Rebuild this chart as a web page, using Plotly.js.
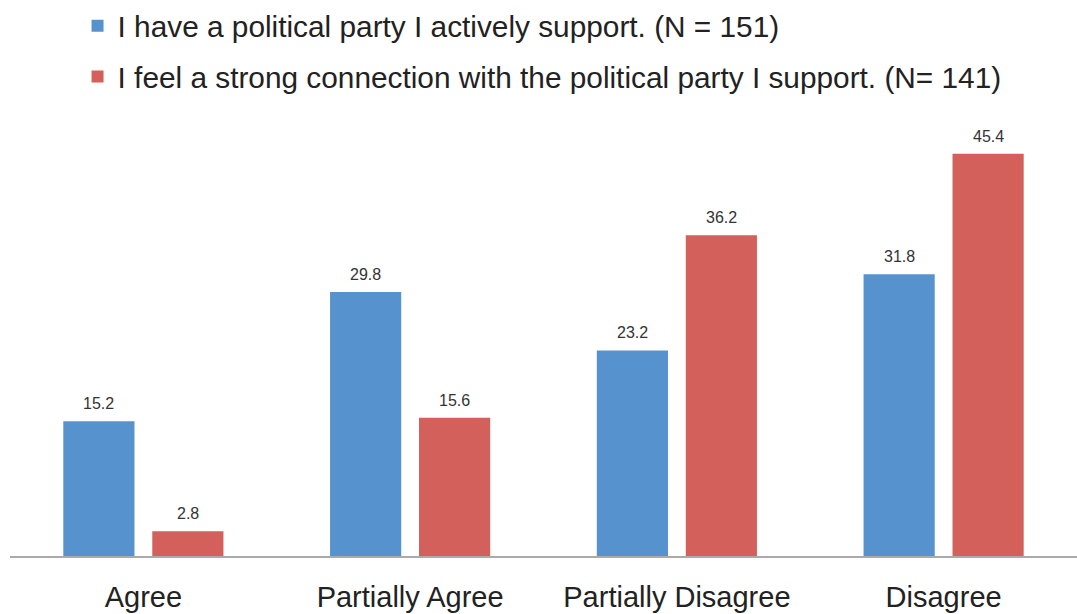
<!DOCTYPE html>
<html>
<head>
<meta charset="utf-8">
<script src="https://cdn.plot.ly/plotly-3.0.1.min.js"></script>
<style>html,body{margin:0;padding:0;background:#fff;}#chart{width:1077px;height:614px;}</style>
</head>
<body>
<div id="chart"></div>
<script>
const categories = ["Agree", "Partially Agree", "Partially Disagree", "Disagree"];
const seriesNames = [
  "I have a political party I actively support. (N = 151)",
  "I feel a strong connection with the political party I support. (N= 141)"
];
const activelySupport = [15.2, 29.8, 23.2, 31.8];
const strongConnection = [2.8, 15.6, 36.2, 45.4];
const seriesValues = [activelySupport, strongConnection];
const seriesColors = ["#5692cd", "#d3605a"];
const labelShift = [-44.5, 44.5];

const traces = seriesValues.map((vals, i) => ({
  type: "bar", x: categories, y: vals, name: seriesNames[i],
  legendgroup: "g" + i,
  marker: {color: seriesColors[i]},
  hoverinfo: "none"
}));

const annotations = [];
seriesValues.forEach((vals, i) => {
  vals.forEach((v, j) => {
    annotations.push({
      x: categories[j], y: v, xref: "x", yref: "y",
      text: v.toFixed(1), showarrow: false,
      xanchor: "center", yanchor: "bottom",
      xshift: labelShift[i], yshift: 7,
      font: {family: "Liberation Sans, Arial, sans-serif", size: 16, color: "#333"}
    });
  });
});

const layout = {
  width: 1077, height: 614,
  margin: {l: 10, r: 0, t: 113, b: 58},
  paper_bgcolor: "#fff", plot_bgcolor: "#fff",
  font: {family: "Liberation Sans, Arial, sans-serif", color: "#222"},
  bargap: 0.333, bargroupgap: 0.2,
  showlegend: true,
  legend: {
    orientation: "v", x: 0.0633, y: 1.0, xanchor: "left", yanchor: "top",
    yref: "container",
    traceorder: "grouped", tracegroupgap: 9,
    font: {size: 29.8, color: "#222"},
    bgcolor: "rgba(0,0,0,0)"
  },
  annotations: annotations,
  xaxis: {
    showgrid: false, showline: true, linecolor: "#aaaaaa", linewidth: 2,
    ticks: "", ticklabelstandoff: 14,
    tickfont: {size: 29, color: "#222"}, fixedrange: true
  },
  yaxis: {
    range: [0, 50], showgrid: false, showline: false, zeroline: false,
    showticklabels: false, ticks: "", fixedrange: true
  }
};

Plotly.newPlot("chart", traces, layout, {displayModeBar: false, staticPlot: true});
</script>
</body>
</html>
